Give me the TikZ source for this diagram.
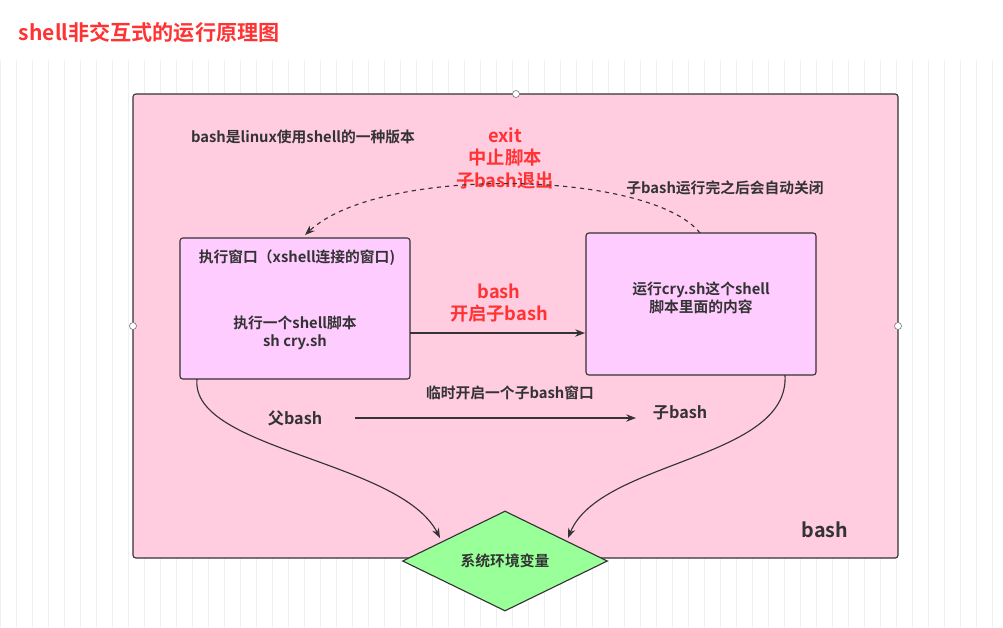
\documentclass[tikz,border=0pt]{standalone}
\usepackage{fontspec}
\setmainfont{Noto Sans CJK SC}[BoldFont={Noto Sans CJK SC Bold}]
\usetikzlibrary{shapes.geometric,arrows.meta}
\definecolor{pinkbg}{HTML}{FFCCE0}
\definecolor{boxfill}{HTML}{FFCCFF}
\definecolor{dia}{HTML}{99FF99}
\definecolor{txt}{HTML}{333333}
\definecolor{red1}{HTML}{FF3333}
\tikzset{
 px/.style={x=0.025cm,y=-0.025cm},
 lbl/.style={font=\bfseries\fontsize{10.5pt}{13pt}\selectfont,text=txt,align=center},
 rlbl/.style={font=\bfseries\fontsize{13pt}{16pt}\selectfont,text=red1,align=center},
 wbox/.style={draw=txt,thick,fill=boxfill,rounded corners=2pt},
 conn/.style={draw=txt,thick,-{Stealth[length=7pt]}},
 handle/.style={circle,draw=txt!70,fill=white,inner sep=0pt,minimum size=5pt}
}
\begin{document}
\begin{tikzpicture}[px]
\useasboundingbox (0,0) rectangle (1003,627);
\fill[white] (0,0) rectangle (1003,627);
\draw[black!6,step=16,xstep=16,ystep=16] (0,60) grid (1003,627);
\node[anchor=west,font=\bfseries\fontsize{15pt}{18pt}\selectfont,text=red1] (title) at (14,32) {shell非交互式的运行原理图};
\draw[txt,thick,fill=pinkbg,rounded corners=2pt] (133,94) rectangle (898,558);
\node[handle] (h1) at (516,94) {};
\node[handle] (h2) at (133,326) {};
\node[handle] (h3) at (898,326) {};
\node[lbl] (t1) at (303,137) {bash是linux使用shell的一种版本};
\node[rlbl] (t2) at (505,158) {exit\\中止脚本\\子bash退出};
\node[lbl] (t3) at (725,188) {子bash运行完之后会自动关闭};
\node[wbox,minimum width=230*0.025cm,minimum height=141*0.025cm] (L) at (295,308.5) {};
\node[lbl] (l1) at (297,258) {执行窗口（xshell连接的窗口)};
\node[lbl] (l2) at (295,333) {执行一个shell脚本\\sh cry.sh};
\node[wbox,minimum width=230*0.025cm,minimum height=142*0.025cm] (R) at (701,304) {};
\node[lbl] (r1) at (701,298) {运行cry.sh这个shell\\脚本里面的内容};
\coordinate (a1) at (410,333);
\coordinate (a2) at (585,333);
\draw[conn] (a1) -- (a2);
\node[rlbl] (t4) at (499,303) {bash\\开启子bash};
\coordinate (d1) at (700,233);
\coordinate (d2) at (305,235);
\draw[conn,dashed] (d1) .. controls (650,170) and (380,165) .. (d2);
\node[lbl] (t5) at (510,393) {临时开启一个子bash窗口};
\node[lbl,font=\bfseries\fontsize{11.5pt}{14pt}\selectfont] (f) at (295,418) {父bash};
\node[lbl,font=\bfseries\fontsize{11.5pt}{14pt}\selectfont] (c) at (680,413) {子bash};
\coordinate (b1) at (355,418);
\coordinate (b2) at (636,418);
\draw[conn] (b1) -- (b2);
\node[diamond,draw=txt,thick,fill=dia,minimum width=205*0.025cm,minimum height=100*0.025cm,inner sep=0pt,aspect=2.05] (D) at (505,561) {};
\node[lbl] at (D) {系统环境变量};
\coordinate (cl) at (197,379);
\coordinate (cr) at (785,375);
\draw[conn] (cl) .. controls (190,450) and (400,460) .. (440,538);
\draw[conn] (cr) .. controls (790,460) and (600,460) .. (568,538);
\node[lbl,font=\bfseries\fontsize{14pt}{16pt}\selectfont] (bb) at (825,530) {bash};
\end{tikzpicture}
\end{document}
